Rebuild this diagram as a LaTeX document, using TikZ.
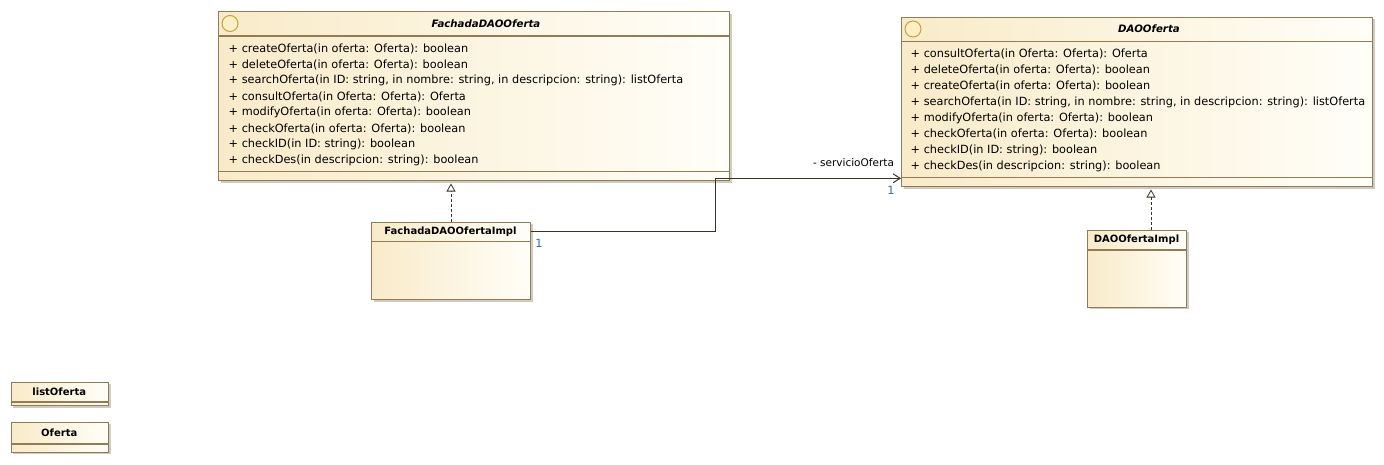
\documentclass[tikz,border=0pt]{standalone}
\usepackage{fontspec}
\setmainfont{DejaVu Sans}
\usetikzlibrary{arrows.meta}
\definecolor{umlL}{HTML}{F9EBC9}
\definecolor{umlR}{HTML}{FFFEF8}
\definecolor{umlB}{HTML}{927C55}
\definecolor{umlS}{HTML}{CFCBC2}
\definecolor{iconF}{HTML}{FDF0C6}
\definecolor{iconB}{HTML}{C9A143}
\definecolor{lineC}{HTML}{3A3428}
\definecolor{multC}{HTML}{2F6DB5}
\tikzset{
  classbox/.style={rectangle, anchor=north west, inner sep=0pt, draw=umlB, line width=1pt, left color=umlL, right color=umlR},
  shadowc/.style={fill=umlS},
  sepline/.style={draw=umlB, line width=1pt},
  hsepline/.style={draw=umlB, line width=1.6pt},
  method/.style={anchor=west, inner sep=0pt, text=black, font=\fontsize{11.3}{13}\selectfont},
  ititle/.style={inner sep=0pt, text=black, font=\fontsize{10.2}{12}\selectfont\bfseries\itshape},
  ctitle/.style={inner sep=0pt, text=black, font=\fontsize{10}{12}\selectfont\bfseries},
  icon/.style={circle, draw=iconB, fill=iconF, line width=1pt, minimum size=16pt, inner sep=0pt},
  realize/.style={draw=lineC, line width=0.8pt, dash pattern=on 3pt off 2pt, shorten >=2.5pt, -{Triangle[length=8pt, width=9pt, fill=white]}},
  assoc/.style={draw=lineC, line width=1pt, -{Straight Barb[length=7pt, width=9pt]}},
  rolelbl/.style={inner sep=0pt, text=black, font=\fontsize{10.5}{12}\selectfont},
  multlbl/.style={inner sep=0pt, text=multC, font=\fontsize{11.3}{13}\selectfont},
}
\begin{document}
\begin{tikzpicture}[x=1pt,y=-1pt]
\useasboundingbox[fill=white] (0,0) rectangle (1384,464);

% ---------- FachadaDAOOferta ----------
\fill[shadowc] (220.5,13.5) rectangle (731.5,182.5);
\node[classbox, minimum width=511pt, minimum height=169pt] (fachada) at (218,11) {};
\draw[hsepline] (218,36) -- (729,36);
\draw[sepline] (218,171.5) -- (729,171.5);
\node[icon] (fachadaicon) at (230,23.5) {};
\node[ititle] (fachadatitle) at (486,23.5) {FachadaDAOOferta};
\foreach \t [count=\i from 0] in {
  {+ createOferta(in oferta: Oferta): boolean},
  {+ deleteOferta(in oferta: Oferta): boolean},
  {+ searchOferta(in ID: string, in nombre: string, in descripcion: string): listOferta},
  {+ consultOferta(in Oferta: Oferta): Oferta},
  {+ modifyOferta(in oferta: Oferta): boolean},
  {+ checkOferta(in oferta: Oferta): boolean},
  {+ checkID(in ID: string): boolean},
  {+ checkDes(in descripcion: string): boolean}}
  \node[method] (fm\i) at (228.5,48.5+16*\i) {\t};

% ---------- DAOOferta ----------
\fill[shadowc] (903.5,19) rectangle (1374.5,188.5);
\node[classbox, minimum width=471pt, minimum height=169.5pt] (dao) at (901,16.5) {};
\draw[hsepline] (901,41.5) -- (1372,41.5);
\draw[sepline] (901,177.5) -- (1372,177.5);
\node[icon] (daoicon) at (913,29) {};
\node[ititle] (daotitle) at (1149,29) {DAOOferta};
\foreach \t [count=\i from 0] in {
  {+ consultOferta(in Oferta: Oferta): Oferta},
  {+ deleteOferta(in oferta: Oferta): boolean},
  {+ createOferta(in oferta: Oferta): boolean},
  {+ searchOferta(in ID: string, in nombre: string, in descripcion: string): listOferta},
  {+ modifyOferta(in oferta: Oferta): boolean},
  {+ checkOferta(in oferta: Oferta): boolean},
  {+ checkID(in ID: string): boolean},
  {+ checkDes(in descripcion: string): boolean}}
  \node[method] (dm\i) at (910.5,54+16*\i) {\t};

% ---------- FachadaDAOOfertaImpl ----------
\fill[shadowc] (373.5,224) rectangle (532.5,301.5);
\node[classbox, minimum width=159pt, minimum height=77.5pt] (impl) at (371,221.5) {};
\draw[hsepline] (371,241.5) -- (530,241.5);
\node[ctitle] (impltitle) at (450.5,231.5) {FachadaDAOOfertaImpl};

% ---------- DAOOfertaImpl ----------
\fill[shadowc] (1089.5,232) rectangle (1188.5,309);
\node[classbox, minimum width=99pt, minimum height=77pt] (daoimpl) at (1087,229.5) {};
\draw[hsepline] (1087,250) -- (1186,250);
\node[ctitle] (daoimpltitle) at (1136.5,240) {DAOOfertaImpl};

% ---------- listOferta ----------
\fill[shadowc] (13,384) rectangle (110.5,407.5);
\node[classbox, minimum width=97.5pt, minimum height=23.5pt] (listof) at (10.5,381.5) {};
\draw[hsepline] (10.5,402) -- (108,402);
\node[ctitle] (listoftitle) at (59.25,392) {listOferta};

% ---------- Oferta ----------
\fill[shadowc] (13,424) rectangle (110.5,454);
\node[classbox, minimum width=97.5pt, minimum height=30pt] (oferta) at (10.5,421.5) {};
\draw[hsepline] (10.5,444) -- (108,444);
\node[ctitle] (ofertatitle) at (59.25,432.5) {Oferta};

% ---------- connectors ----------
\draw[realize] (impl.north) -- (impl.north |- fachada.south);
\coordinate (dgen) at (1151,229.5);
\draw[realize] (dgen) -- (dgen |- dao.south);
\coordinate (bend) at (715,178.3);
\draw[assoc] (impl.east |- impltitle) -| (bend) -- (bend -| dao.west);
\node[rolelbl] (rolename) at (853.5,163) {- servicioOferta};
\node[multlbl] (mult1) at (539,243) {1};
\node[multlbl] (mult2) at (891,190) {1};
\end{tikzpicture}
\end{document}
